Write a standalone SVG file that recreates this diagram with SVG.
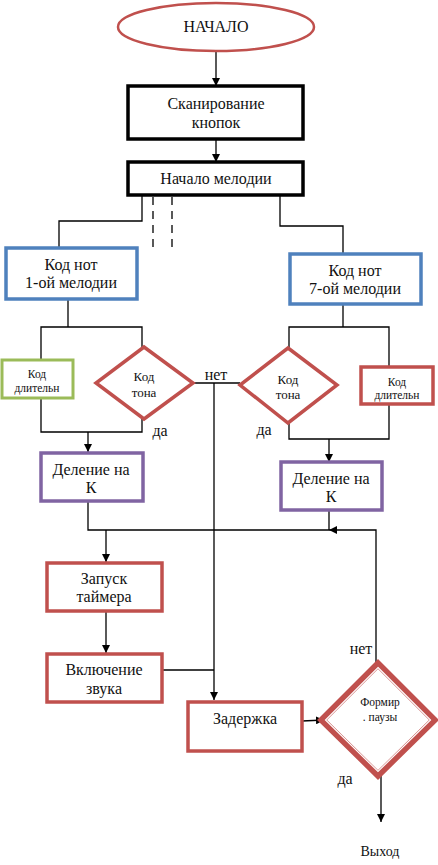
<svg xmlns="http://www.w3.org/2000/svg" width="438" height="865" viewBox="0 0 438 865" font-family="'Liberation Serif', 'Times New Roman', serif">
<defs>
<marker id="ah" viewBox="0 0 10 10" refX="10" refY="5" markerWidth="8" markerHeight="8" markerUnits="userSpaceOnUse" orient="auto">
<path d="M0,0 L10,5 L0,10 z" fill="#000"/>
</marker>
<style>
text{font-family:"Liberation Serif","Times New Roman",serif;font-size:16px;fill:#111;text-anchor:middle}
.md{font-size:13px}
.sm{font-size:11.5px}
.xs{font-size:11.5px}
.ex{font-size:14px}
.c{fill:none;stroke:#000;stroke-width:1.3}
.a{fill:none;stroke:#000;stroke-width:1.3;marker-end:url(#ah)}
.d{fill:none;stroke:#000;stroke-width:1.3;stroke-dasharray:8 6}
.blk{fill:#fff;stroke:#000;stroke-width:3.5}
.red{fill:#fff;stroke:#c0504d;stroke-width:3.5}
.blu{fill:#fff;stroke:#4f81bd;stroke-width:3.5}
.grn{fill:#fff;stroke:#9bbb59;stroke-width:3}
.pur{fill:#fff;stroke:#8064a2;stroke-width:3.5}
</style>
</defs>
<rect width="438" height="865" fill="#fff"/>
<g id="connectors">
<path class="a" d="M216,52 V86"/>
<path class="a" d="M216,139 V162"/>
<path class="c" d="M142,195 V221 H59 V248"/>
<path class="d" d="M153,197 V248"/>
<path class="d" d="M172,197 V248"/>
<path class="c" d="M280,195 V226 H343 V253"/>
<path class="c" d="M68,299 V327"/>
<path class="c" d="M41,359 V327 H142 V347"/>
<path class="c" d="M343,304 V327"/>
<path class="c" d="M289,348 V327 H389 V366"/>
<path class="c" d="M193,383 H240"/>
<path class="a" d="M214,383 V700"/>
<path class="c" d="M41,398 V432 H142 V419"/>
<path class="a" d="M88,432 V452"/>
<path class="c" d="M389,404 V439 H289 V423"/>
<path class="a" d="M329,439 V462"/>
<path class="c" d="M88,501 V530 H329"/>
<path class="c" d="M329,510 V530"/>
<path class="a" d="M376,664 V530 H329"/>
<path class="a" d="M106,530 V562"/>
<path class="a" d="M106,611 V653"/>
<path class="c" d="M162,670 H214"/>
<path class="a" d="M302,721 L324,720"/>
<path class="a" d="M381,775 V822"/>
</g>
<g id="start">
<ellipse cx="216" cy="27" rx="98" ry="24" fill="#fff" stroke="#c0504d" stroke-width="2.5"/>
<text x="216" y="32">НАЧАЛО</text>
</g>
<g id="scan">
<rect class="blk" x="128" y="86" width="175" height="53"/>
<text x="216" y="109">Сканирование</text>
<text x="216" y="128">кнопок</text>
</g>
<g id="melody-start">
<rect class="blk" x="128" y="162" width="175" height="33"/>
<text x="216" y="184">Начало мелодии</text>
</g>
<g id="codes1">
<rect class="blu" x="6" y="248" width="131" height="51"/>
<text x="71" y="270">Код нот</text>
<text x="71" y="288">1-ой мелодии</text>
</g>
<g id="codes7">
<rect class="blu" x="290" y="254" width="131" height="50"/>
<text x="355" y="276">Код нот</text>
<text x="355" y="294">7-ой мелодии</text>
</g>
<g id="dur1">
<rect class="grn" x="2" y="360" width="71" height="38"/>
<text class="sm" x="37" y="378">Код</text>
<text class="sm" x="37" y="392">длительн</text>
</g>
<g id="tone1">
<polygon class="red" points="144,347 193,383 144,419 96,383"/>
<text class="md" x="144" y="381">Код</text>
<text class="md" x="144" y="397">тона</text>
</g>
<g id="tone7">
<polygon class="red" points="288,348 337,385 288,423 240,385"/>
<text class="md" x="288" y="384">Код</text>
<text class="md" x="288" y="399">тона</text>
</g>
<g id="dur7">
<rect class="red" x="361" y="367" width="72" height="37"/>
<text class="sm" x="397" y="386">Код</text>
<text class="sm" x="397" y="399">длительн</text>
</g>
<g id="labels">
<text x="216" y="380">нет</text>
<text x="160" y="436">да</text>
<text x="264" y="435">да</text>
<text x="361" y="654">нет</text>
<text x="345" y="784">да</text>
</g>
<g id="div1">
<rect class="pur" x="41" y="453" width="102" height="48"/>
<text x="91" y="475">Деление на</text>
<text x="91" y="493">К</text>
</g>
<g id="div7">
<rect class="pur" x="281" y="462" width="101" height="48"/>
<text x="331" y="484">Деление на</text>
<text x="331" y="502">К</text>
</g>
<g id="timer">
<rect class="red" x="47" y="563" width="115" height="48"/>
<text x="104" y="584">Запуск</text>
<text x="104" y="602">таймера</text>
</g>
<g id="sound">
<rect class="red" x="47" y="654" width="115" height="48"/>
<text x="104" y="675">Включение</text>
<text x="104" y="694">звука</text>
</g>
<g id="delay">
<rect class="red" x="188" y="702" width="114" height="49"/>
<text x="245" y="724">Задержка</text>
</g>
<g id="pause">
<polygon points="378,664 434,720 378,775 322,720" fill="#fff" stroke="#c0504d" stroke-width="7"/>
<polygon points="378,667.5 430.5,720 378,771.5 325.5,720" fill="none" stroke="#fff" stroke-width="1.2"/>
<text class="xs" x="380" y="706">Формир</text>
<text class="xs" x="380" y="721">. паузы</text>
</g>
<g id="exit">
<text class="ex" x="380" y="856">Выход</text>
</g>
</svg>
